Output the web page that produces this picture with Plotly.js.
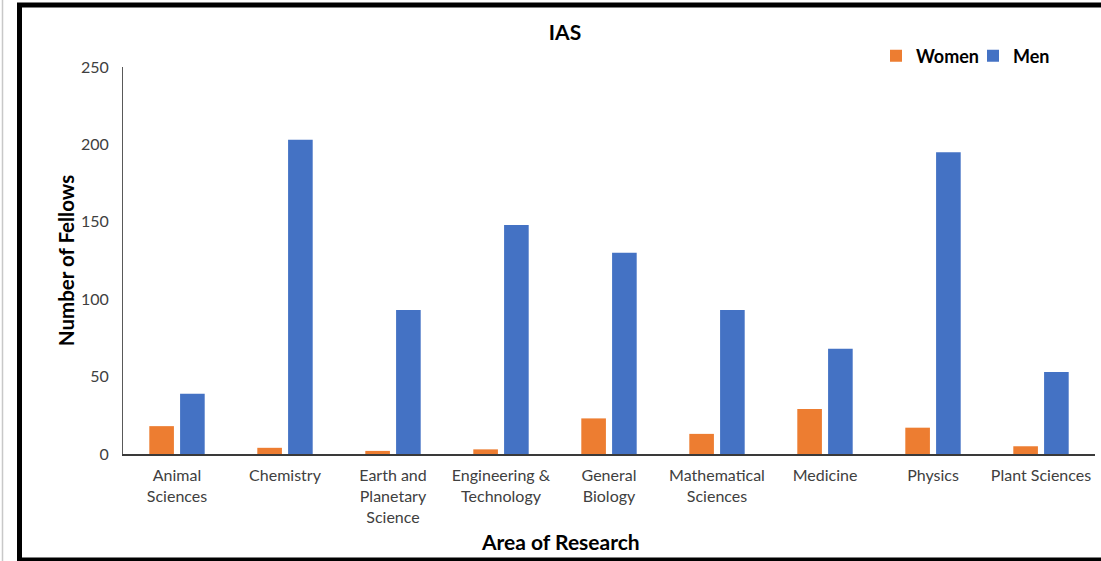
<!DOCTYPE html>
<html>
<head>
<meta charset="utf-8">
<script src="https://cdn.plot.ly/plotly-3.0.1.min.js"></script>
<style>html,body{margin:0;padding:0;background:#fff;}#chart{width:1101px;height:561px;}</style>
</head>
<body>
<div id="chart"></div>
<script>
const categories = ["Animal<br>Sciences", "Chemistry", "Earth and<br>Planetary<br>Science", "Engineering &<br>Technology", "General<br>Biology", "Mathematical<br>Sciences", "Medicine", "Physics", "Plant Sciences"];
const women = [18, 4, 2, 3, 23, 13, 29, 17, 5];
const men = [39, 203, 93, 148, 130, 93, 68, 195, 53];
const yTicks = [0, 50, 100, 150, 200, 250];

const FONT = "Lato, 'Open Sans', sans-serif";

const traces = [
  {type: "bar", name: "Women", x: categories, y: women, marker: {color: "#ED7D31"}, hoverinfo: "x+y+name"},
  {type: "bar", name: "Men", x: categories, y: men, marker: {color: "#4472C4"}, hoverinfo: "x+y+name"}
];

// helpers to place frame in paper coordinates
const L = 123, R = 6, T = 67, B = 107, W = 1101, H = 561;
const pw = W - L - R, ph = H - T - B;
const px = v => (v - L) / pw;
const py = v => (H - B - v) / ph;

const layout = {
  width: W, height: H,
  margin: {l: L, r: R, t: T, b: B, pad: 0},
  paper_bgcolor: "#ffffff",
  plot_bgcolor: "#ffffff",
  font: {family: FONT, size: 16, color: "#404040"},
  title: {text: "<b>IAS</b>", font: {family: FONT, size: 21, color: "#000000"}, xref: "container", x: 565 / W, xanchor: "center", yref: "container", y: 1 - 33 / H, yanchor: "middle"},
  barmode: "group",
  bargap: 0.43,
  bargroupgap: 0.2,
  showlegend: true,
  legend: {orientation: "h", x: px(876), xanchor: "left", y: py(56), yanchor: "middle", font: {family: FONT, size: 18, color: "#000000", weight: "bold"}, itemwidth: 30, entrywidth: 52, entrywidthmode: "pixels", bgcolor: "rgba(0,0,0,0)", traceorder: "normal"},
  xaxis: {
    type: "category",
    showline: true, linecolor: "#3a3a3a", linewidth: 2,
    showgrid: false, zeroline: false,
    ticks: "", tickfont: {family: FONT, size: 16, color: "#404040"},
    ticklabelstandoff: 6,
    fixedrange: true
  },
  yaxis: {
    range: [0, 250],
    tickvals: yTicks,
    showline: true, linecolor: "#595959", linewidth: 1,
    showgrid: false, zeroline: false,
    ticks: "", tickfont: {family: FONT, size: 16, color: "#404040"},
    ticklabelstandoff: 10,
    title: {text: "<b>Number of Fellows</b>", font: {family: FONT, size: 20.5, color: "#000000"}, standoff: 0},
    fixedrange: true
  },
  annotations: [
    {text: "<b>Area of Research</b>", xref: "paper", yref: "paper", x: px(560), y: py(541), xanchor: "center", yanchor: "middle", showarrow: false, font: {family: FONT, size: 21, color: "#000000"}}
  ],
  shapes: [
    {type: "rect", xref: "paper", yref: "paper", x0: px(19.5), x1: px(1115), y0: py(560), y1: py(5), line: {color: "#000000", width: 5}, fillcolor: "rgba(0,0,0,0)", layer: "above"},
    {type: "line", xref: "paper", yref: "paper", x0: px(2.5), x1: px(2.5), y0: py(561), y1: py(0), line: {color: "#c8c8c8", width: 1.5}}
  ]
};

Plotly.newPlot("chart", traces, layout, {displayModeBar: false, staticPlot: true});
</script>
</body>
</html>
